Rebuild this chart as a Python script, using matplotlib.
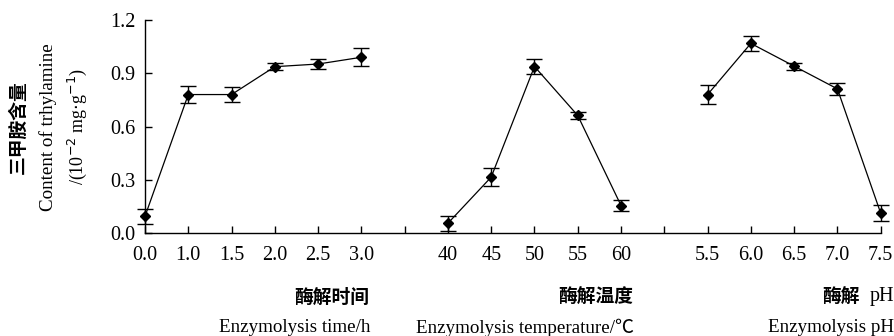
import matplotlib
matplotlib.use("Agg")
import matplotlib.pyplot as plt  # noqa: E402
import numpy as np  # noqa: E402

# enzymolysis time (h)
time_labels = ["0.0", "1.0", "1.5", "2.0", "2.5", "3.0"]
time_vals = [0.094, 0.78, 0.78, 0.937, 0.952, 0.99]
time_err = [0.041, 0.047, 0.040, 0.020, 0.030, 0.050]

# enzymolysis temperature (C)
temp_labels = ["40", "45", "50", "55", "60"]
temp_vals = [0.055, 0.315, 0.938, 0.662, 0.155]
temp_err = [0.042, 0.050, 0.040, 0.022, 0.030]

# enzymolysis pH
ph_labels = ["5.5", "6.0", "6.5", "7.0", "7.5"]
ph_vals = [0.78, 1.068, 0.94, 0.812, 0.112]
ph_err = [0.053, 0.040, 0.020, 0.033, 0.045]

SERIF = ["Liberation Serif", "Noto Sans CJK SC"]
CJK = ["Noto Sans CJK SC", "DejaVu Sans"]

fig = plt.figure(figsize=(8.95, 3.36), dpi=100)
ax = fig.add_axes([0.162, 0.3065, 0.822, 0.634])

groups = [(time_labels, time_vals, time_err),
          (temp_labels, temp_vals, temp_err),
          (ph_labels, ph_vals, ph_err)]

ticks, ticklabels = [], []
start = 0
for labels, vals, err in groups:
    x = np.arange(start, start + len(labels))
    ax.errorbar(x, vals, yerr=err, color="black", lw=0.9, marker="D", ms=5,
                capsize=6, capthick=1.0, elinewidth=1.0, clip_on=False, zorder=3)
    ticks.extend(x)
    ticklabels.extend(labels)
    gap = start + len(labels)
    ticks.append(gap)
    ticklabels.append("")
    start = gap + 1
ticks, ticklabels = ticks[:-1], ticklabels[:-1]

ax.set_xlim(0, ticks[-1])
ax.set_ylim(0, 1.2)
ax.set_xticks(ticks)
ax.set_xticklabels(ticklabels)
ax.set_yticks([0, 0.3, 0.6, 0.9, 1.2])
ax.set_yticklabels(["0.0", "0.3", "0.6", "0.9", "1.2"])
for s in ["top", "right"]:
    ax.spines[s].set_visible(False)
for s in ["left", "bottom"]:
    ax.spines[s].set_linewidth(1.0)
ax.tick_params(direction="in", length=5, width=1.0, labelsize=14.5)
ax.tick_params(axis="x", pad=9)
ax.tick_params(axis="y", pad=7)
for lab in ax.get_xticklabels() + ax.get_yticklabels():
    lab.set_family(SERIF)

# y labels
fig.text(18 / 895, 1 - 127 / 336, "三甲胺含量", rotation=90, ha="center", va="center",
         fontsize=13.5, fontweight="bold", family=CJK)
fig.text(48 / 895, 1 - 127 / 336, "Content of trhylamine", rotation=90, ha="center",
         va="center", fontsize=13.7, family=SERIF)
fig.text(77 / 895, 1 - 127 / 336, r"/(10$^{-2}$ mg$\cdot$g$^{-1}$)", rotation=90,
         ha="center", va="center", fontsize=13, family=SERIF)

# x labels
cn_y = 1 - 297 / 336
en_y = 1 - 328 / 336
fig.text(369 / 895, cn_y, "酶解时间", ha="right", va="center", fontsize=13.5,
         fontweight="bold", family=CJK)
fig.text(370 / 895, en_y, "Enzymolysis time/h", ha="right", va="center", fontsize=13.7,
         family=SERIF)
fig.text(633 / 895, cn_y, "酶解温度", ha="right", va="center", fontsize=13.5,
         fontweight="bold", family=CJK)
fig.text(634 / 895, en_y, "Enzymolysis temperature/℃", ha="right", va="center",
         fontsize=13.7, family=SERIF)
fig.text(860 / 895, cn_y, "酶解", ha="right", va="center", fontsize=13.5,
         fontweight="bold", family=CJK)
fig.text(894 / 895, cn_y, "pH", ha="right", va="center", fontsize=14.5, family=SERIF)
fig.text(894 / 895, en_y, "Enzymolysis pH", ha="right", va="center", fontsize=13.7,
         family=SERIF)

fig.savefig("out.png", dpi=100)
